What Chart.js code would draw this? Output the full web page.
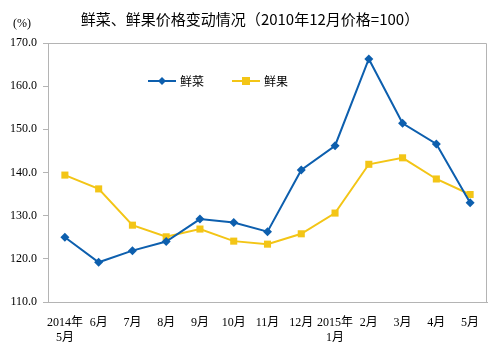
<!DOCTYPE html>
<html>
<head>
<meta charset="utf-8">
<script src="https://cdn.jsdelivr.net/npm/chart.js@4"></script>
<style>
  body { margin: 0; background: #fff; }
  #wrap { width: 492px; height: 347px; }
</style>
</head>
<body>
<div id="wrap"><canvas id="chart" width="492" height="347"></canvas></div>
<script>
const months = [['2014年', '5月'], '6月', '7月', '8月', '9月', '10月', '11月', '12月', ['2015年', '1月'], '2月', '3月', '4月', '5月'];
const vegetables = [125.0, 119.2, 121.9, 124.0, 129.2, 128.4, 126.3, 140.6, 146.2, 166.3, 151.4, 146.6, 133.0];
const fruits = [139.4, 136.2, 127.8, 125.1, 126.9, 124.1, 123.4, 125.8, 130.6, 141.9, 143.4, 138.5, 134.9];
const yTicks = [110, 120, 130, 140, 150, 160, 170];

const BLUE = '#0d5fae';
const YELLOW = '#f3c516';
const numFont = '"Liberation Serif", "Noto Sans CJK SC", serif';

// title, unit label, box around plot and the legend
const extras = {
    id: 'extras',
    afterDraw(chart) {
        const ctx = chart.ctx;
        const a = chart.chartArea;
        ctx.save();
        ctx.strokeStyle = '#b4b4b4';
        ctx.lineWidth = 1;
        ctx.beginPath();
        ctx.moveTo(a.left, a.top + 0.5);
        ctx.lineTo(a.right - 0.5, a.top + 0.5);
        ctx.lineTo(a.right - 0.5, a.bottom);
        ctx.stroke();

        ctx.fillStyle = '#000';
        ctx.textBaseline = 'middle';
        ctx.textAlign = 'center';
        ctx.font = '15px "Noto Sans CJK SC", sans-serif';
        ctx.fillText('鲜菜、鲜果价格变动情况（2010年12月价格=100）', 250, 19);
        ctx.font = '12px ' + numFont;
        ctx.fillText('(%)', 22, 24);

        // legend
        const items = [
            { x: 148, ds: chart.data.datasets[0] },
            { x: 232, ds: chart.data.datasets[1] }
        ];
        const ly = 81;
        items.forEach(it => {
            ctx.strokeStyle = it.ds.borderColor;
            ctx.lineWidth = 2;
            ctx.beginPath();
            ctx.moveTo(it.x, ly);
            ctx.lineTo(it.x + 28, ly);
            ctx.stroke();
            ctx.fillStyle = it.ds.backgroundColor;
            const cx = it.x + 14;
            if (it.ds.pointStyle === 'rectRot') {
                ctx.beginPath();
                ctx.moveTo(cx, ly - 4);
                ctx.lineTo(cx + 4, ly);
                ctx.lineTo(cx, ly + 4);
                ctx.lineTo(cx - 4, ly);
                ctx.closePath();
                ctx.fill();
            } else {
                ctx.fillRect(cx - 4, ly - 4, 8, 8);
            }
            ctx.fillStyle = '#000';
            ctx.textAlign = 'left';
            ctx.font = '12px "Noto Sans CJK SC", sans-serif';
            ctx.fillText(it.ds.label, it.x + 32, ly);
        });
        ctx.restore();
    }
};

new Chart(document.getElementById('chart'), {
    type: 'line',
    data: {
        labels: months,
        datasets: [
            {
                label: '鲜菜',
                data: vegetables,
                borderColor: BLUE,
                backgroundColor: BLUE,
                borderWidth: 2,
                pointStyle: 'rectRot',
                pointRadius: 4.5,
                pointBorderWidth: 0,
                tension: 0
            },
            {
                label: '鲜果',
                data: fruits,
                borderColor: YELLOW,
                backgroundColor: YELLOW,
                borderWidth: 2,
                pointStyle: 'rect',
                pointRadius: 5,
                pointBorderWidth: 0,
                tension: 0
            }
        ]
    },
    options: {
        responsive: false,
        animation: false,
        layout: { padding: { top: 43, right: 2, left: 0, bottom: 0 } },
        plugins: {
            legend: { display: false },
            tooltip: { enabled: false },
            title: { display: false }
        },
        scales: {
            x: {
                offset: true,
                grid: { display: false },
                border: { display: true, color: '#b4b4b4', width: 1 },
                ticks: {
                    color: '#000',
                    font: { family: numFont, size: 12 },
                    padding: 6,
                    maxRotation: 0,
                    autoSkip: false
                },
                afterFit(s) { s.height = 45; }
            },
            y: {
                min: 110,
                max: 170,
                afterBuildTicks(s) { s.ticks = yTicks.map(v => ({ value: v })); },
                grid: { drawOnChartArea: false, drawTicks: true, tickLength: 5, color: '#b4b4b4' },
                border: { display: true, color: '#b4b4b4', width: 1 },
                ticks: {
                    color: '#000',
                    font: { family: numFont, size: 12 },
                    padding: 6,
                    callback: v => v.toFixed(1)
                },
                afterFit(s) { s.width = 48; }
            }
        }
    },
    plugins: [extras]
});
</script>
</body>
</html>
